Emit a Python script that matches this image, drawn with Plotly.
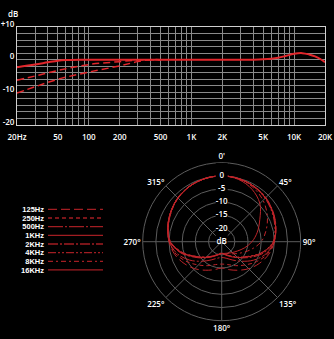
import numpy as np
import plotly.graph_objects as go

# ---------------- frequency response data ----------------
freq_solid = [20, 30, 40, 50, 60, 80, 100, 200, 500, 1000, 2000, 3000, 4000,
              5000, 6000, 7000, 8000, 10000, 12000, 14000, 16000, 18000, 20000]
db_solid = [-2.3, -1.5, -0.8, -0.3, -0.1, 0, 0, 0, 0, 0, 0, 0, 0,
            0.1, 0.3, 0.6, 1.0, 1.8, 2.0, 1.6, 1.0, 0.2, -0.8]

freq_cut1 = [20, 30, 50, 100, 200, 300, 400, 500]
db_cut1 = [-6.3, -5.0, -3.3, -1.5, -0.6, -0.1, 0, 0]

freq_cut2 = [20, 30, 50, 100, 200, 300, 400, 500]
db_cut2 = [-10.2, -8.3, -6.0, -3.8, -1.9, -0.6, 0, 0]

fr_grid = [20, 30, 40, 50, 60, 70, 80, 90, 100, 200, 300, 400, 500, 600, 700, 800, 900,
           1000, 2000, 3000, 4000, 5000, 6000, 7000, 8000, 9000, 10000, 20000]
fr_labels = {20: "20Hz", 50: "50", 100: "100", 200: "200", 500: "500", 1000: "1K",
             2000: "2K", 5000: "5K", 10000: "10K", 20000: "20K"}
db_grid = list(range(-20, 11, 2))
db_labels = {10: "+10", 0: "0", -10: "-10", -20: "-20"}

# ---------------- polar pattern data ----------------
angles = [0, 15, 30, 45, 60, 75, 90, 105, 120, 135, 150, 165, 180,
          195, 210, 225, 240, 255, 270, 285, 300, 315, 330, 345]
bands = ["125Hz", "250Hz", "500Hz", "1KHz", "2KHz", "4KHz", "8KHz", "16KHz"]
pat_125 = [0, -0.2, -0.7, -1.5, -2.6, -3.8, -5.0, -6.5, -8.5, -10.5, -12.5, -14, -15,
           -14, -12.5, -10.5, -8.5, -6.5, -5.0, -3.8, -2.6, -1.5, -0.7, -0.2]
pat_250 = [0, -0.2, -0.7, -1.5, -2.6, -3.8, -5.1, -7.0, -9.8, -12.5, -14.5, -16, -16.5,
           -16, -14.5, -12.5, -9.8, -7.0, -5.1, -3.8, -2.6, -1.5, -0.7, -0.2]
pat_500 = [0, -0.2, -0.7, -1.5, -2.6, -3.8, -5.1, -7.5, -11, -14.5, -17, -18.5, -19,
           -18.5, -17, -14.5, -11, -7.5, -5.1, -3.8, -2.6, -1.5, -0.7, -0.2]
pat_1k = [0, -0.2, -0.7, -1.5, -2.6, -3.8, -5.3, -9.0, -13.5, -16.5, -18.5, -19.8, -20.5,
          -19.8, -18.5, -16.5, -13.5, -9.0, -5.3, -3.8, -2.6, -1.5, -0.7, -0.2]
pat_2k = [0, -0.2, -0.6, -1.3, -2.4, -3.7, -5.2, -8.5, -13, -16.5, -18.8, -20, -20.8,
          -20, -18.6, -16.3, -13.2, -8.8, -5.4, -3.9, -2.6, -1.4, -0.6, -0.2]
pat_4k = [0, -0.2, -0.8, -1.7, -2.9, -4.1, -5.5, -9.2, -13.8, -16.8, -18.8, -20, -20.6,
          -19.9, -18.7, -16.8, -13.8, -9.4, -5.5, -4.0, -2.8, -1.6, -0.7, -0.2]
pat_8k = [0, -0.3, -1.2, -2.8, -5.0, -7.5, -10, -13.5, -16.5, -18.5, -19.8, -20.3, -20.5,
          -20, -18.8, -16.8, -13.8, -9.5, -5.6, -4.0, -2.8, -1.6, -0.7, -0.2]
pat_16k = [0, -0.5, -2.0, -4.5, -8.3, -11, -13.5, -16, -18, -19.2, -20, -20.4, -20.5,
           -20, -18.8, -16.6, -13.6, -9.2, -5.4, -3.9, -2.7, -1.5, -0.7, -0.2]
patterns = [pat_125, pat_250, pat_500, pat_1k, pat_2k, pat_4k, pat_8k, pat_16k]
dashes = ["9px,4px", "4px,3px", "15px,2px,2px,2px", "solid",
          "10px,2px,2px,2px", "8px,2px,2px,2px,2px,2px", "5px,3px,2px,3px", "solid"]

ring_vals = [0, -5, -10, -15, -20, -25]
ring_text = ["0", "-5", "-10", "-15", "-20", "dB"]
ang_ticks = [0, 45, 90, 135, 180, 225, 270, 315]
ang_text = ["0'", "45°", "90°", "135°", "180°", "225°", "270°", "315°"]

W, H = 334, 339
RED = "#e2262b"
PRED = "#bd252a"
LRED = "#a11d22"
FONT = dict(family="Open Sans", size=8, color="white", weight=600)
LFONT = dict(family="Liberation Sans", size=7.5, color="white", weight=700)

fig = go.Figure()

# top chart
fig.add_trace(go.Scatter(x=freq_cut2, y=db_cut2, mode="lines",
                         line=dict(color=RED, width=1.5, dash="7px,4px", shape="spline"),
                         xaxis="x", yaxis="y"))
fig.add_trace(go.Scatter(x=freq_cut1, y=db_cut1, mode="lines",
                         line=dict(color=RED, width=1.5, dash="7px,4px", shape="spline"),
                         xaxis="x", yaxis="y"))
fig.add_trace(go.Scatter(x=freq_solid, y=db_solid, mode="lines",
                         line=dict(color=RED, width=2, shape="spline"),
                         xaxis="x", yaxis="y"))

# legend lines
for i, (b, d) in enumerate(zip(bands, dashes)):
    fig.add_trace(go.Scatter(x=[0, 1], y=[i, i], mode="lines",
                             line=dict(color=LRED, width=1.3, dash=d),
                             xaxis="x2", yaxis="y2"))

# polar curves
for pat, d in zip(patterns, dashes):
    fig.add_trace(go.Scatterpolar(theta=angles + [angles[0]], r=pat + [pat[0]],
                                  mode="lines",
                                  line=dict(color=PRED, width=1, dash=d, shape="spline"),
                                  subplot="polar"))
# label band and ring labels
fig.add_trace(go.Scatterpolar(theta=[0, 0], r=[-25, 5], mode="lines",
                              line=dict(color="black", width=12), subplot="polar"))
fig.add_trace(go.Scatterpolar(theta=[0] * len(ring_vals), r=ring_vals, mode="text",
                              text=ring_text, textfont=FONT, subplot="polar"))

fig.update_layout(
    width=W, height=H, margin=dict(l=0, r=0, t=0, b=0, autoexpand=False),
    paper_bgcolor="black", plot_bgcolor="black", showlegend=False,
    xaxis=dict(type="log", range=[np.log10(20), np.log10(20000)],
               domain=[17 / W, 325 / W], tickvals=fr_grid,
               ticktext=[fr_labels.get(v, "") for v in fr_grid],
               showgrid=True, gridcolor="#8a8a8a", gridwidth=1, zeroline=False,
               showline=True, linecolor="#cfcfcf", linewidth=1, mirror=True,
               ticks="", tickfont=FONT, fixedrange=True, ticklabeloverflow="allow",
               ticklabelstandoff=4, automargin=False),
    yaxis=dict(range=[-20, 10], domain=[1 - 125 / H, 1 - 27 / H], tickvals=db_grid,
               ticktext=[db_labels.get(v, "") for v in db_grid],
               showgrid=True, gridcolor="#8a8a8a", gridwidth=1, zeroline=False,
               showline=True, linecolor="#cfcfcf", linewidth=1, mirror=True,
               ticks="", tickfont=FONT, fixedrange=True, ticklabeloverflow="allow",
               ticklabelshift=-3, automargin=False),
    xaxis2=dict(domain=[48 / W, 103 / W], range=[0, 1], visible=False, anchor="y2",
                automargin=False),
    yaxis2=dict(domain=[1 - 274.3 / H, 1 - 205 / H], range=[7.5, -0.5], anchor="x2",
                tickvals=list(range(len(bands))), ticktext=bands, showgrid=False,
                zeroline=False, showline=False, ticks="", tickfont=LFONT,
                ticklabelstandoff=3, automargin=False),
    polar=dict(
        domain=dict(x=[142.7 / W, 300.7 / W], y=[1 - 320.7 / H, 1 - 162.7 / H]),
        bgcolor="black",
        radialaxis=dict(range=[-25, 5], tickvals=[-20, -15, -10, -5, 0, 5],
                        showticklabels=False, ticks="", showline=False,
                        gridcolor="#5c5c5c", gridwidth=1, layer="below traces"),
        angularaxis=dict(rotation=90, direction="clockwise", tickvals=ang_ticks,
                         ticktext=ang_text, tickfont=FONT, ticks="",
                         gridcolor="#5c5c5c", linecolor="#5c5c5c", showline=True,
                         layer="below traces"),
    ),
    annotations=[dict(text="dB", xref="x domain", yref="y domain", x=0, y=1,
                      xanchor="center", yanchor="bottom", xshift=-4, yshift=6,
                      showarrow=False, font=FONT)],
)

fig.write_html("out.html", config={"displayModeBar": False},
               post_script="document.body.style.margin='0';")
